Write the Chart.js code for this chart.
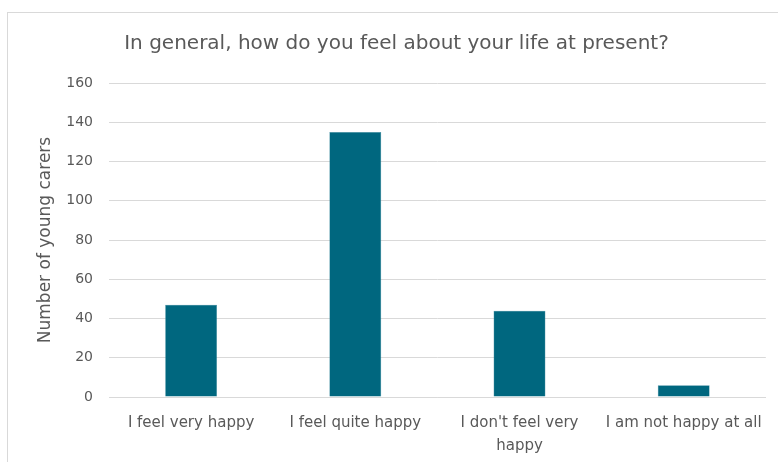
<!DOCTYPE html>
<html><head><meta charset="utf-8">
<script src="https://cdn.jsdelivr.net/npm/chart.js@4"></script>
<style>
html,body{margin:0;padding:0;background:#fff;}
#wrap{position:relative;width:778px;height:462px;overflow:hidden;}
#frame{position:absolute;left:7px;top:12px;width:800px;height:500px;border:1px solid #d9d9d9;box-sizing:border-box;}
canvas{position:absolute;left:0;top:0;}
</style></head>
<body><div id="wrap"><div id="frame"></div><canvas id="c" width="778" height="462"></canvas></div>
<script>
const categories = ["I feel very happy", "I feel quite happy", ["I don't feel very", "happy"], "I am not happy at all"];
const values = [47, 135, 44, 6];
const yTicks = [0, 20, 40, 60, 80, 100, 120, 140, 160];
const titleText = "In general, how do you feel about your life at present?";
const yTitle = "Number of young carers";

const FONT = "'DejaVu Sans', sans-serif";
new Chart(document.getElementById('c'), {
  type: 'bar',
  data: { labels: categories, datasets: [{ data: values, backgroundColor: '#00677F', borderColor: '#3d8ba0', borderWidth: 0.5, barPercentage: 0.316, categoryPercentage: 1 }] },
  options: {
    responsive: false, animation: false,
    layout: { padding: { left: 26, right: 11, top: 0, bottom: 0 } },
    plugins: {
      legend: { display: false }, tooltip: { enabled: false },
      title: { display: true, text: titleText, color: '#595959', font: { family: FONT, size: 20, weight: 'normal' }, padding: { top: 32, bottom: 27 } }
    },
    scales: {
      x: {
        grid: { display: false, drawTicks: false },
        border: { color: '#d9d9d9', width: 1 },
        ticks: { color: '#595959', font: { family: FONT, size: 15, lineHeight: 1.5 }, padding: 15, maxRotation: 0, autoSkip: false },
        afterFit: s => { s.height = 65; }
      },
      y: {
        min: 0, max: 160,
        afterBuildTicks: s => { s.ticks = yTicks.map(v => ({ value: v })); },
        grid: { color: '#d9d9d9', drawTicks: false },
        border: { display: false },
        ticks: { color: '#595959', font: { family: FONT, size: 14 }, padding: 16 },
        title: { display: true, text: yTitle, color: '#595959', font: { family: FONT, size: 17 }, padding: { top: 9, bottom: 4 } },
        afterFit: s => { s.width = 83; }
      }
    }
  }
});
</script></body></html>
